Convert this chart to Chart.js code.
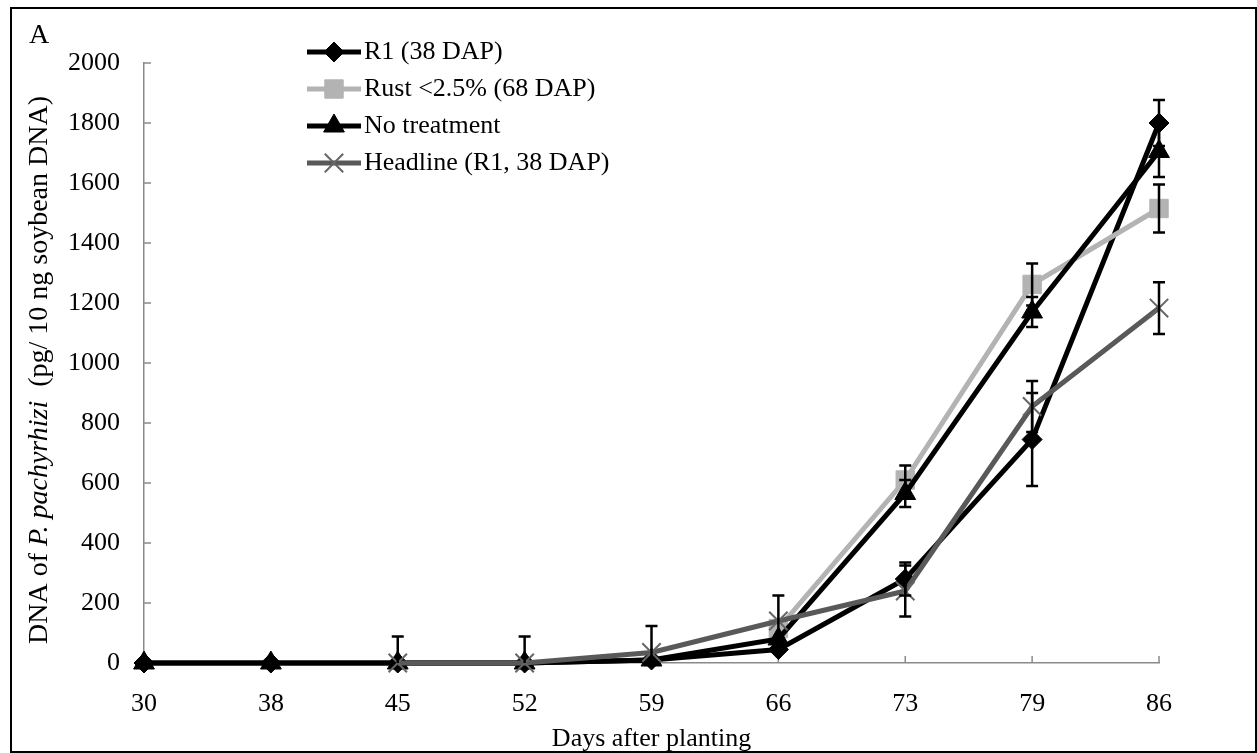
<!DOCTYPE html>
<html>
<head>
<meta charset="utf-8">
<script src="https://cdn.jsdelivr.net/npm/chart.js@4.4.0/dist/chart.umd.min.js"></script>
<style>
  body { margin: 0; background: #fff; }
  #wrap { width: 1257px; height: 753px; position: relative; }
</style>
</head>
<body>
<div id="wrap"><canvas id="dna"></canvas></div>
<script>
// data (DNA of P. pachyrhizi, pg / 10 ng soybean DNA)
const days = ['30', '38', '45', '52', '59', '66', '73', '79', '86'];

const r1 = [0, 0, 0, 0, 10, 45, 280, 745, 1800];
const r1Err = [null, null, null, null, null, null, 55, 155, 77];

const rust = [null, null, null, null, null, 115, 610, 1262, 1515];
const rustErr = [null, null, null, null, null, null, 48, 70, 80];

const noTreat = [0, 0, 0, 0, 10, 80, 565, 1170, 1705];
const noTreatErr = [null, null, null, null, null, null, 45, 50, 85];

const headline = [null, null, 0, 0, 35, 140, 240, 855, 1183];
const headlineErr = [null, null, 88, 88, 88, 85, 85, 85, 86];

const yMin = 0, yMax = 2000, yStep = 200;

const FONT = "'Liberation Serif', 'Times New Roman', serif";
const AXIS_GRAY = '#8a8a8a';

// error bars (black, capped), drawn over the lines
const errorBars = {
    id: 'errorBars',
    afterDatasetsDraw(chart) {
        const { ctx, chartArea, scales: { x, y } } = chart;
        ctx.save();
        ctx.strokeStyle = '#000';
        ctx.lineWidth = 2.5;
        chart.data.datasets.forEach(ds => {
            if (!ds.err) return;
            ds.data.forEach((v, i) => {
                const e = ds.err[i];
                if (v == null || e == null) return;
                const px = x.getPixelForValue(i);
                const top = y.getPixelForValue(v + e);
                const low = v - e;
                const bot = low < 0 ? chartArea.bottom : y.getPixelForValue(low);
                ctx.beginPath();
                ctx.moveTo(px, top);
                ctx.lineTo(px, bot);
                ctx.moveTo(px - 6, top);
                ctx.lineTo(px + 6, top);
                if (low >= 0) {
                    ctx.moveTo(px - 6, bot);
                    ctx.lineTo(px + 6, bot);
                }
                ctx.stroke();
            });
        });
        ctx.restore();
    }
};

// inner tick marks, y title with italic species name, legend, frame
const decorations = {
    id: 'decorations',
    beforeDatasetsDraw(chart) {
        const { ctx, chartArea, scales: { x, y } } = chart;
        ctx.save();
        ctx.strokeStyle = AXIS_GRAY;
        ctx.lineWidth = 1.5;
        ctx.beginPath();
        y.ticks.forEach(t => {
            const py = y.getPixelForValue(t.value);
            ctx.moveTo(chartArea.left, py);
            ctx.lineTo(chartArea.left + 7, py);
        });
        days.forEach((d, i) => {
            const px = x.getPixelForValue(i);
            ctx.moveTo(px, chartArea.bottom);
            ctx.lineTo(px, chartArea.bottom - 7);
        });
        ctx.stroke();
        ctx.restore();
    },
    afterDraw(chart) {
        const { ctx } = chart;
        ctx.save();

        // y axis title
        const parts = [
            { t: 'DNA of ', f: `28px ${FONT}` },
            { t: 'P. pachyrhizi', f: `italic 28px ${FONT}` },
            { t: '  (pg/ 10 ng soybean DNA)', f: `28px ${FONT}` }
        ];
        let total = 0;
        parts.forEach(p => { ctx.font = p.f; p.w = ctx.measureText(p.t).width; total += p.w; });
        ctx.translate(40, 370);
        ctx.rotate(-Math.PI / 2);
        ctx.fillStyle = '#000';
        ctx.textBaseline = 'middle';
        ctx.textAlign = 'left';
        let cx = -total / 2;
        parts.forEach(p => { ctx.font = p.f; ctx.fillText(p.t, cx, 0); cx += p.w; });
        ctx.setTransform(1, 0, 0, 1, 0, 0);

        // panel letter
        ctx.font = `28px ${FONT}`;
        ctx.fillText('A', 29, 36);

        // legend
        const rowY = [52, 89, 126, 163];
        chart.data.datasets.forEach((ds, i) => {
            const yy = rowY[i];
            ctx.strokeStyle = ds.borderColor;
            ctx.lineWidth = ds.borderWidth;
            ctx.beginPath();
            ctx.moveTo(307, yy);
            ctx.lineTo(361, yy);
            ctx.stroke();
            ctx.fillStyle = ds.pointBackgroundColor;
            ctx.strokeStyle = ds.pointBorderColor;
            ctx.lineWidth = ds.pointBorderWidth;
            Chart.helpers.drawPoint(ctx, {
                pointStyle: ds.pointStyle, radius: ds.pointRadius,
                rotation: 0, borderWidth: ds.pointBorderWidth
            }, 334, yy);
            ctx.fillStyle = '#000';
            ctx.font = `26px ${FONT}`;
            ctx.textBaseline = 'middle';
            ctx.fillText(ds.label, 364, yy);
        });

        // outer frame
        ctx.strokeStyle = '#000';
        ctx.lineWidth = 2;
        ctx.strokeRect(11, 8, 1245, 744);
        ctx.restore();
    }
};

const ctx = document.getElementById('dna').getContext('2d');
new Chart(ctx, {
    type: 'line',
    data: {
        labels: days,
        datasets: [
            {
                label: 'R1 (38 DAP)', data: r1, err: r1Err,
                borderColor: '#000', borderWidth: 5,
                pointStyle: 'rectRot', pointRadius: 10,
                pointBackgroundColor: '#000', pointBorderColor: '#000', pointBorderWidth: 1,
                order: 4, clip: false
            },
            {
                label: 'Rust <2.5% (68 DAP)', data: rust, err: rustErr,
                borderColor: '#b3b3b3', borderWidth: 5,
                pointStyle: 'rect', pointRadius: 13,
                pointBackgroundColor: '#b3b3b3', pointBorderColor: '#b3b3b3', pointBorderWidth: 1,
                order: 3, clip: false
            },
            {
                label: 'No treatment', data: noTreat, err: noTreatErr,
                borderColor: '#000', borderWidth: 5,
                pointStyle: 'triangle', pointRadius: 12,
                pointBackgroundColor: '#000', pointBorderColor: '#000', pointBorderWidth: 1,
                order: 2, clip: false
            },
            {
                label: 'Headline (R1, 38 DAP)', data: headline, err: headlineErr,
                borderColor: '#595959', borderWidth: 5,
                pointStyle: 'crossRot', pointRadius: 13,
                pointBackgroundColor: '#666', pointBorderColor: '#666', pointBorderWidth: 2,
                order: 1, clip: false
            }
        ]
    },
    options: {
        responsive: true,
        maintainAspectRatio: false,
        animation: false,
        layout: { padding: { top: 63, right: 98, bottom: 0, left: 0 } },
        plugins: {
            legend: { display: false },
            tooltip: { enabled: false }
        },
        scales: {
            x: {
                grid: { display: false, drawTicks: false },
                border: { display: true, color: AXIS_GRAY, width: 1.5 },
                ticks: { color: '#000', padding: 26, maxRotation: 0, font: { family: FONT, size: 26 } },
                title: {
                    display: true, text: 'Days after planting', color: '#000',
                    padding: { top: 0, bottom: -2 }, font: { family: FONT, size: 26 }
                },
                afterFit: s => { s.height = 90; }
            },
            y: {
                min: yMin, max: yMax,
                grid: { display: false, drawTicks: false },
                border: { display: true, color: AXIS_GRAY, width: 1.5 },
                ticks: {
                    stepSize: yStep, color: '#000', padding: 24,
                    font: { family: FONT, size: 26 },
                    callback: v => String(v)
                },
                afterFit: s => { s.width = 144; }
            }
        }
    },
    plugins: [decorations, errorBars]
});
</script>
</body>
</html>
